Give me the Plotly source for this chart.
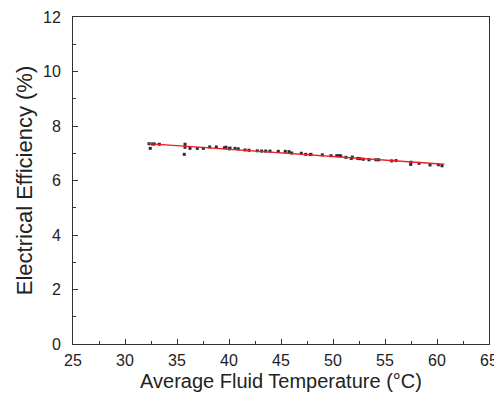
import numpy as np
import plotly.graph_objects as go

temp_c = [32.31, 32.43, 32.63, 32.82, 33.30, 35.77, 35.77, 35.70, 36.25, 36.95, 37.53,
          38.14, 38.78, 39.55, 40.03, 39.71, 40.10, 40.58, 40.89, 41.54, 41.92, 42.72,
          43.14, 43.53, 43.94, 44.74, 45.41, 45.77, 46.03, 46.95, 47.38, 47.82, 47.88,
          48.97, 49.81, 50.36, 50.61, 50.74, 51.25, 51.76, 51.86, 52.38, 52.60, 52.91,
          53.46, 54.13, 54.39, 55.64, 56.06, 57.47, 57.50, 58.27, 59.33, 60.13, 60.48]
efficiency = [7.35, 7.18, 7.34, 7.34, 7.33, 7.33, 7.22, 6.96, 7.18, 7.18, 7.18,
              7.23, 7.23, 7.20, 7.16, 7.22, 7.19, 7.18, 7.16, 7.12, 7.11, 7.09,
              7.08, 7.08, 7.08, 7.07, 7.07, 7.06, 7.01, 7.00, 6.96, 6.95, 6.96,
              6.94, 6.91, 6.91, 6.91, 6.90, 6.85, 6.81, 6.86, 6.81, 6.80, 6.78,
              6.76, 6.76, 6.76, 6.72, 6.73, 6.59, 6.67, 6.63, 6.57, 6.58, 6.54]

fit_x = [32.2, 60.7]
slope, intercept = np.polyfit(temp_c, efficiency, 1)
fit_y = [slope * x + intercept for x in fit_x]

x_ticks = [25, 30, 35, 40, 45, 50, 55, 60, 65]
y_ticks = [0, 2, 4, 6, 8, 10, 12]

font = "Liberation Sans, Arial, Helvetica, sans-serif"
axis_col = "#333333"
text_col = "#222222"

fig = go.Figure()
fig.add_trace(go.Scatter(x=temp_c, y=efficiency, mode="markers",
                         marker=dict(symbol="square", size=3, color="#2a2a2a"),
                         showlegend=False))
fig.add_trace(go.Scatter(x=fit_x, y=fit_y, mode="lines",
                         line=dict(color="#e8202a", width=1.4),
                         showlegend=False))

common = dict(showgrid=False, zeroline=False, showline=True, linecolor=axis_col,
              linewidth=1, mirror=True, ticks="inside", ticklen=5, tickwidth=1,
              tickcolor=axis_col, automargin=False,
              tickfont=dict(family=font, size=16, color=text_col))

fig.update_xaxes(range=[25, 65], tickvals=x_ticks, ticklabelstandoff=2,
                 title=dict(text="Average Fluid Temperature (°C)",
                            font=dict(family=font, size=20, color=text_col), standoff=5),
                 minor=dict(dtick=2.5, tick0=25, ticks="inside", ticklen=3, tickcolor=axis_col),
                 **common)
fig.update_yaxes(range=[0, 12], tickvals=y_ticks, ticklabelstandoff=8,
                 title=dict(text="Electrical Efficiency (%)",
                            font=dict(family=font, size=22, color=text_col), standoff=4),
                 minor=dict(dtick=1, tick0=0, ticks="inside", ticklen=3, tickcolor=axis_col),
                 **common)

# page body has an 8px margin, so the figure is sized/offset to compensate
fig.update_layout(width=494, height=390, margin=dict(l=65, r=13, t=9, b=54),
                  plot_bgcolor="white", paper_bgcolor="white")

fig.write_html("out.html")
